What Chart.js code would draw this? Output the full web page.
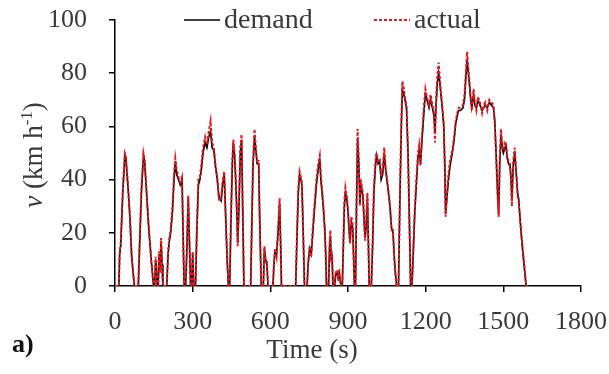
<!DOCTYPE html>
<html>
<head>
<meta charset="utf-8">
<script src="https://cdn.jsdelivr.net/npm/chart.js@4.4.1/dist/chart.umd.min.js"></script>
<style>
  body { margin: 0; background: #fff; }
  #wrap { width: 609px; height: 374px; }
</style>
</head>
<body>
<div id="wrap"><canvas id="speed" width="609" height="374"></canvas></div>
<script>
// time (s), shared by both traces
const times = [
    0, 15, 18, 22, 30, 38, 42, 48, 52, 58,
    64, 70, 75, 90, 95, 102, 110, 114, 120, 124,
    130, 134, 140, 149, 153, 157, 160, 163, 167, 170,
    174, 178, 182, 185, 200, 205, 210, 215, 222, 228,
    233, 238, 245, 252, 259, 263, 267, 273, 278, 283,
    288, 292, 296, 300, 304, 311, 316, 322, 328, 334,
    340, 348, 355, 362, 369, 375, 382, 388, 395, 400,
    403, 410, 416, 422, 428, 433, 438, 443, 448, 453,
    457, 462, 466, 470, 474, 479, 484, 489, 494, 498,
    524, 528, 533, 539, 545, 549, 555, 558, 562, 565,
    573, 577, 582, 587, 591, 610, 614, 618, 624, 630,
    636, 640, 643, 698, 702, 708, 713, 718, 722, 727,
    732, 742, 746, 752, 758, 764, 770, 778, 785, 791,
    795, 800, 805, 810, 814, 817, 825, 829, 832, 835,
    838, 842, 848, 852, 858, 862, 866, 870, 873, 878,
    882, 886, 890, 895, 900, 905, 908, 913, 918, 922,
    925, 929, 933, 937, 942, 946, 950, 954, 958, 962,
    966, 970, 975, 979, 982, 990, 995, 1000, 1006, 1010,
    1016, 1022, 1028, 1034, 1040, 1045, 1050, 1055, 1062, 1068,
    1074, 1078, 1083, 1088, 1095, 1100, 1106, 1110, 1116, 1120,
    1126, 1132, 1137, 1142, 1147, 1152, 1158, 1164, 1170, 1175,
    1180, 1186, 1193, 1199, 1205, 1213, 1219, 1226, 1232, 1236,
    1240, 1245, 1250, 1254, 1258, 1264, 1270, 1274, 1277, 1282,
    1288, 1294, 1303, 1310, 1316, 1322, 1327, 1335, 1344, 1350,
    1355, 1360, 1365, 1369, 1374, 1378, 1385, 1390, 1396, 1402,
    1410, 1418, 1424, 1430, 1438, 1446, 1454, 1462, 1467, 1472,
    1478, 1482, 1486, 1491, 1496, 1500, 1506, 1510, 1515, 1520,
    1526, 1530, 1533, 1538, 1544, 1550, 1555, 1559, 1565, 1572,
    1578, 1583, 1588, 1600
];

// demanded speed (km/h)
const demand = [
    0, 0, 12, 15, 35, 49, 48, 40, 35, 25,
    12, 5, 0, 0, 15, 35, 49, 47, 38, 32,
    22, 17, 10, 0, 0, 10, 6, 0, 0, 12,
    6, 17, 8, 0, 0, 12, 17, 20, 28, 40,
    47, 42, 40, 38, 40, 20, 0, 0, 15, 33,
    15, 0, 0, 12, 0, 0, 20, 38, 40, 44,
    50, 54, 52, 56, 58, 52, 51, 45, 40, 35,
    33, 32, 38, 42, 25, 10, 0, 0, 25, 45,
    54, 49, 40, 30, 16, 30, 50, 55, 25, 0,
    0, 20, 45, 56, 50, 46, 46, 30, 12, 0,
    0, 14, 10, 8, 0, 0, 8, 13, 12, 20,
    31, 15, 0, 0, 15, 35, 42, 40, 38, 20,
    0, 0, 8, 14, 12, 20, 28, 38, 44, 48,
    40, 35, 29, 22, 12, 0, 0, 15, 19, 10,
    12, 0, 0, 4, 5, 3, 5, 2, 0, 0,
    15, 30, 35, 33, 28, 20, 17, 24, 22, 10,
    0, 0, 30, 55, 45, 31, 38, 36, 33, 25,
    18, 22, 33, 15, 0, 0, 15, 35, 45, 49,
    46, 47, 40, 42, 50, 44, 40, 36, 30, 22,
    20, 12, 5, 0, 0, 30, 60, 74, 72, 70,
    67, 50, 25, 0, 0, 12, 28, 38, 48, 51,
    46, 55, 65, 72, 70, 67, 70, 67, 64, 58,
    68, 76, 80, 77, 73, 67, 60, 45, 27, 33,
    40, 45, 50, 55, 61, 64, 66, 66, 67, 70,
    78, 85, 80, 76, 70, 67, 72, 68, 67, 70,
    68, 66, 67, 68, 67, 69, 68, 67, 62, 50,
    35, 27, 45, 57, 52, 50, 52, 53, 48, 46,
    45, 40, 32, 45, 50, 42, 35, 33, 25, 16,
    10, 5, 0, 0
];

// measured speed (km/h)
const actual = [
    0, 0, 13, 16, 36, 50, 49, 41, 34, 26,
    11, 5, 0, 0, 16, 37, 50, 48, 39, 31,
    23, 18, 9, 0, 0, 11, 5, 0, 0, 13,
    5, 18, 7, 0, 0, 13, 18, 21, 30, 42,
    48, 44, 41, 39, 41, 19, 0, 0, 16, 34,
    14, 0, 0, 13, 0, 0, 21, 40, 41, 46,
    52, 56, 53, 58, 62, 54, 52, 46, 41, 34,
    32, 33, 40, 43, 24, 11, 0, 0, 27, 47,
    55, 50, 41, 29, 15, 32, 52, 57, 24, 0,
    0, 22, 47, 59, 51, 47, 47, 29, 11, 0,
    0, 15, 9, 9, 0, 0, 9, 14, 11, 22,
    33, 14, 0, 0, 16, 37, 43, 41, 39, 19,
    0, 0, 9, 15, 11, 22, 30, 40, 46, 49,
    42, 36, 30, 21, 11, 0, 0, 16, 21, 9,
    13, 0, 0, 5, 6, 2, 6, 2, 0, 0,
    16, 32, 37, 34, 29, 19, 16, 26, 23, 9,
    0, 0, 33, 59, 47, 30, 40, 37, 35, 24,
    17, 24, 35, 14, 0, 0, 16, 37, 47, 50,
    47, 48, 41, 44, 52, 45, 41, 37, 31, 21,
    21, 11, 4, 0, 0, 31, 62, 77, 74, 71,
    68, 49, 24, 0, 0, 13, 29, 40, 50, 53,
    45, 57, 67, 74, 71, 68, 72, 68, 65, 54,
    70, 79, 84, 79, 74, 68, 61, 44, 26, 34,
    42, 47, 51, 56, 62, 65, 67, 67, 68, 72,
    80, 88, 82, 77, 71, 66, 74, 69, 66, 71,
    69, 65, 68, 69, 66, 70, 69, 68, 61, 49,
    33, 26, 47, 59, 53, 51, 54, 54, 49, 47,
    46, 39, 30, 47, 52, 43, 34, 32, 24, 17,
    11, 6, 0, 0
];

const xTicks = [0, 300, 600, 900, 1200, 1500, 1800];
const yTicks = [0, 20, 40, 60, 80, 100];

const SERIF = '"Liberation Serif", "Times New Roman", serif';
const TEXT = '#3a3a3a';

// legend inside the plot top + axis titles with italic v and superscript
const decorations = {
    id: 'decorations',
    afterDraw(chart) {
        const ctx = chart.ctx;
        const ds = chart.data.datasets;
        ctx.save();

        // legend
        const legend = [
            { ds: ds[0], x0: 184 },
            { ds: ds[1], x0: 374 }
        ];
        ctx.font = '28px ' + SERIF;
        ctx.textBaseline = 'middle';
        ctx.textAlign = 'left';
        legend.forEach(item => {
            ctx.beginPath();
            ctx.strokeStyle = item.ds.borderColor;
            ctx.lineWidth = item.ds.borderWidth;
            ctx.setLineDash(item.ds.borderDash || []);
            ctx.moveTo(item.x0, 20);
            ctx.lineTo(item.x0 + 36, 20);
            ctx.stroke();
            ctx.setLineDash([]);
            ctx.fillStyle = TEXT;
            ctx.fillText(item.ds.label, item.x0 + 40, 21);
        });

        // y title: v (km h-1)
        ctx.save();
        ctx.translate(33, 155);
        ctx.rotate(-Math.PI / 2);
        ctx.textBaseline = 'alphabetic';
        ctx.fillStyle = TEXT;
        const parts = [
            { t: 'v', f: 'italic 27px ' + SERIF, dy: 0 },
            { t: ' (km h', f: '27px ' + SERIF, dy: 0 },
            { t: '-1', f: '17px ' + SERIF, dy: -10 },
            { t: ')', f: '27px ' + SERIF, dy: 0 }
        ];
        let w = 0;
        parts.forEach(p => { ctx.font = p.f; w += ctx.measureText(p.t).width; });
        let x = -w / 2;
        parts.forEach(p => {
            ctx.font = p.f;
            ctx.fillText(p.t, x, 9 + p.dy);
            x += ctx.measureText(p.t).width;
        });
        ctx.restore();

        // x title
        ctx.font = '27px ' + SERIF;
        ctx.textAlign = 'center';
        ctx.fillStyle = TEXT;
        ctx.fillText('Time (s)', 312, 351);

        // panel label
        ctx.font = 'bold 26px ' + SERIF;
        ctx.textAlign = 'left';
        ctx.fillStyle = '#111';
        ctx.fillText('a)', 12, 345);

        ctx.restore();
    }
};

new Chart(document.getElementById('speed'), {
    type: 'line',
    data: {
        datasets: [
            {
                label: 'demand',
                data: times.map((t, i) => ({ x: t, y: demand[i] })),
                borderColor: '#000000',
                borderWidth: 1.6,
                pointRadius: 0,
                tension: 0,
                fill: false,
                order: 1
            },
            {
                label: 'actual',
                data: times.map((t, i) => ({ x: t, y: actual[i] })),
                borderColor: '#e8141b',
                borderWidth: 2,
                borderDash: [3, 2],
                pointRadius: 0,
                tension: 0,
                fill: false,
                order: 0
            }
        ]
    },
    options: {
        responsive: false,
        animation: false,
        layout: { padding: { top: 20, right: 28, left: 0, bottom: 0 } },
        plugins: {
            legend: { display: false },
            tooltip: { enabled: false }
        },
        scales: {
            x: {
                type: 'linear',
                min: 0,
                max: 1800,
                afterBuildTicks: scale => { scale.ticks = xTicks.map(v => ({ value: v })); },
                afterFit: scale => {
                    scale.height = 88;
                    scale.paddingLeft = 0;
                    scale.paddingRight = 0;
                },
                border: { display: true, color: '#000', width: 1.5 },
                grid: { drawOnChartArea: false, drawTicks: true, tickLength: 6, color: '#000', lineWidth: 1.5 },
                ticks: { color: TEXT, padding: 15, maxRotation: 0, callback: v => String(v), font: { family: SERIF, size: 26 } }
            },
            y: {
                min: 0,
                max: 100,
                afterBuildTicks: scale => { scale.ticks = yTicks.map(v => ({ value: v })); },
                afterFit: scale => {
                    scale.width = 115;
                    scale.paddingTop = 0;
                    scale.paddingBottom = 0;
                },
                border: { display: true, color: '#000', width: 1.5 },
                grid: { drawOnChartArea: false, drawTicks: true, tickLength: 6, color: '#000', lineWidth: 1.5 },
                ticks: { color: TEXT, padding: 22, callback: v => String(v), font: { family: SERIF, size: 26 } }
            }
        }
    },
    plugins: [decorations]
});
</script>
</body>
</html>
